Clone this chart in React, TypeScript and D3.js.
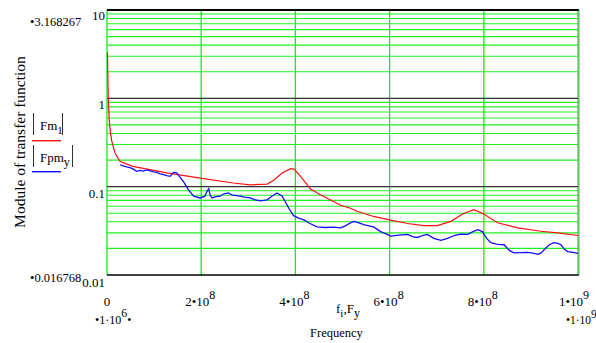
import React from "react";
import * as d3 from "d3";

// Frequency in MHz, transfer-function modulus (dimensionless)
const fmFreq = [1, 2, 3, 5, 7, 10, 17, 28, 55, 127, 198, 268, 304, 340, 354, 372, 390, 397, 411, 432, 453, 481, 496, 517, 531, 566, 602, 638, 672, 701, 730, 757, 779, 800, 829, 872, 921, 957, 1000];
const fmVal = [3.3, 1.5, 0.9, 0.55, 0.42, 0.33, 0.24, 0.193, 0.17, 0.143, 0.125, 0.11, 0.105, 0.107, 0.118, 0.143, 0.16, 0.158, 0.131, 0.094, 0.081, 0.068, 0.0615, 0.057, 0.0526, 0.046, 0.0418, 0.0383, 0.0363, 0.0363, 0.0405, 0.0497, 0.055, 0.049, 0.039, 0.0342, 0.0313, 0.03, 0.028];

const fpmFreq = [28, 34, 42, 50, 56, 63, 70, 77, 84, 92, 99, 106, 113, 120, 127, 134, 141, 148, 155, 162, 173, 184, 198, 208, 212, 216, 219, 223, 231, 240, 248, 258, 266, 275, 283, 292, 304, 315, 326, 333, 340, 350, 361, 372, 386, 396, 407, 418, 432, 446, 463, 481, 496, 506, 517, 524, 535, 545, 556, 566, 581, 595, 602, 620, 638, 649, 659, 670, 680, 694, 709, 723, 737, 751, 766, 777, 787, 797, 806, 815, 829, 843, 854, 864, 879, 893, 904, 915, 922, 928, 939, 949, 957, 964, 971, 978, 989, 1000];
const fpmVal = [0.177, 0.172, 0.167, 0.163, 0.158, 0.149, 0.153, 0.15, 0.155, 0.151, 0.147, 0.145, 0.14, 0.137, 0.133, 0.131, 0.145, 0.143, 0.128, 0.115, 0.092, 0.078, 0.0745, 0.078, 0.088, 0.095, 0.08, 0.0745, 0.077, 0.078, 0.083, 0.085, 0.08, 0.079, 0.078, 0.076, 0.0745, 0.071, 0.069, 0.07, 0.071, 0.078, 0.085, 0.078, 0.057, 0.047, 0.044, 0.042, 0.038, 0.035, 0.0345, 0.0348, 0.0342, 0.036, 0.039, 0.0405, 0.039, 0.0372, 0.036, 0.035, 0.031, 0.0288, 0.0275, 0.0282, 0.0288, 0.0272, 0.0266, 0.028, 0.0288, 0.026, 0.0247, 0.026, 0.028, 0.029, 0.0288, 0.031, 0.0326, 0.031, 0.026, 0.0232, 0.0222, 0.022, 0.019, 0.0178, 0.0179, 0.018, 0.0177, 0.0171, 0.0178, 0.0193, 0.022, 0.0232, 0.0228, 0.022, 0.0195, 0.0184, 0.018, 0.0176];

const xTicks = [0, 2e8, 4e8, 6e8, 8e8, 1e9];
const xTickMain = ["0", "2•10", "4•10", "6•10", "8•10", "1•10"];
const xTickExp = ["", "8", "8", "8", "8", "9"];
const yTicks = [0.01, 0.1, 1, 10];
const yTickLabels = ["0.01", "0.1", "1", "10"];

const W = 596;
const H = 343;
const FONT = "'Liberation Serif', 'DejaVu Serif', serif";

export default function App() {
  const x = d3.scaleLinear().domain([0, 1e9]).range([107, 578]);
  const y = d3.scaleLog().domain([0.01, 10]).range([275, 10]);

  const line = d3
    .line<[number, number]>()
    .x((d) => x(d[0] * 1e6))
    .y((d) => y(d[1]));

  const fmPath = line(fmFreq.map((f, i) => [f, fmVal[i]] as [number, number])) || "";
  const fpmPath = line(fpmFreq.map((f, i) => [f, fpmVal[i]] as [number, number])) || "";

  // minor log grid values (2..9 × each decade)
  const minor: number[] = [];
  [0.01, 0.1, 1].forEach((dec) => {
    for (let k = 2; k <= 9; k++) minor.push(dec * k);
  });

  const [x0, x1] = x.range();
  const [yb, yt] = y.range();

  return (
    <svg width={W} height={H} style={{ position: "absolute", left: 0, top: 0, background: "#fff" }} fontFamily={FONT}>
      <rect x={0} y={0} width={W} height={H} fill="#fff" />
      {/* minor horizontal grid */}
      {minor.map((v, i) => (
        <line key={"mn" + i} x1={x0} x2={x1} y1={y(v)} y2={y(v)} stroke="#22ee22" strokeWidth={1.1} />
      ))}
      {/* vertical grid */}
      {xTicks.map((t, i) => (
        <line key={"vg" + i} x1={x(t)} x2={x(t)} y1={yt} y2={yb} stroke="#11ee11" strokeWidth={1.3} />
      ))}
      {/* decade lines */}
      {[0.1, 1].map((v, i) => (
        <line key={"dc" + i} x1={x0} x2={x1} y1={y(v)} y2={y(v)} stroke="#333" strokeWidth={1.1} />
      ))}
      <line x1={x0} x2={x1 + 1} y1={yt} y2={yt} stroke="#000" strokeWidth={2} />
      <line x1={x0} x2={x1 + 1} y1={yb} y2={yb} stroke="#000" strokeWidth={1.6} />
      <line x1={x1 + 1} x2={x1 + 1} y1={yt} y2={yb} stroke="#888" strokeWidth={1} />

      {/* curves */}
      <path d={fmPath} fill="none" stroke="#ff1010" strokeWidth={1.2} />
      <path d={fpmPath} fill="none" stroke="#1010ff" strokeWidth={1.3} />

      {/* y tick labels */}
      {yTicks.map((v, i) => (
        <text key={"yt" + i} x={105} y={y(v) + (i === 0 ? 12 : i === 3 ? 10 : 11)} fontSize={13} textAnchor="end" fill="#000">
          {yTickLabels[i]}
        </text>
      ))}
      <text x={30} y={26} fontSize={12.5} fill="#000">•3.168267</text>
      <text x={30} y={282} fontSize={12.5} fill="#000">•0.016768</text>

      {/* x tick labels */}
      {xTicks.map((t, i) => (
        <text key={"xt" + i} x={x(t) - (i === 0 ? 0 : i === 5 ? 4 : 1)} y={306} fontSize={13} textAnchor="middle" fill="#000">
          {xTickMain[i]}
          {xTickExp[i] && (
            <tspan dy={-7} fontSize={12}>
              {xTickExp[i]}
            </tspan>
          )}
        </text>
      ))}
      <text x={95} y={324} fontSize={12} fill="#000">
        •1·10<tspan dy={-7}>6</tspan>
        <tspan dy={7}>•</tspan>
      </text>
      <text x={566} y={324} fontSize={11.5} fill="#000">
        •1·10<tspan dy={-6}>9</tspan>
      </text>

      {/* x axis title */}
      <text x={336} y={313} fontSize={13} fill="#000">
        f<tspan dy={4} fontSize={11}>i</tspan>
        <tspan dy={-4}>,F</tspan>
        <tspan dy={4} fontSize={12}>y</tspan>
      </text>
      <text x={336.5} y={337} fontSize={12.5} textAnchor="middle" fill="#000">Frequency</text>

      {/* y axis title */}
      <text transform="translate(25,142) rotate(-90)" fontSize={15.5} textAnchor="middle" fill="#000">
        Module of transfer function
      </text>

      {/* legend */}
      <g>
        <line x1={33.5} x2={33.5} y1={113} y2={135} stroke="#333" strokeWidth={1} />
        <line x1={62.5} x2={62.5} y1={113} y2={135} stroke="#333" strokeWidth={1} />
        <text x={40} y={130} fontSize={13} fill="#000">
          Fm<tspan dy={4} fontSize={11}>1</tspan>
        </text>
        <line x1={32} x2={61} y1={140.7} y2={140.7} stroke="#ff1010" strokeWidth={1.4} />
        <line x1={33.5} x2={33.5} y1={145} y2={167} stroke="#333" strokeWidth={1} />
        <line x1={72.5} x2={72.5} y1={145} y2={167} stroke="#333" strokeWidth={1} />
        <text x={40} y={162} fontSize={13} fill="#000">
          Fpm<tspan dy={4} fontSize={12}>y</tspan>
        </text>
        <line x1={32} x2={61} y1={171.7} y2={171.7} stroke="#1010ff" strokeWidth={1.4} />
      </g>
    </svg>
  );
}
